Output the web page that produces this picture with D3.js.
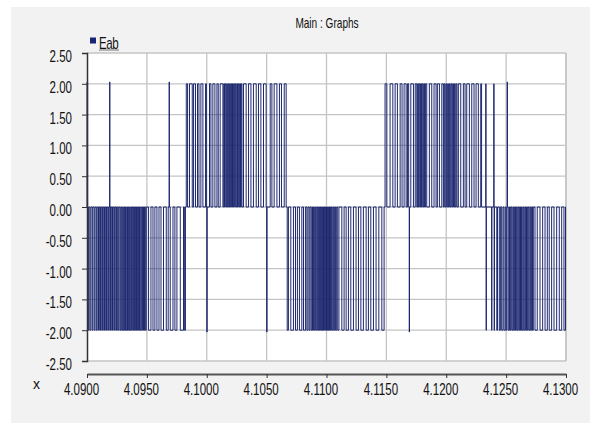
<!DOCTYPE html>
<html>
<head>
<meta charset="utf-8">
<script src="https://cdn.jsdelivr.net/npm/d3@7"></script>
<style>
  body { margin: 0; background: #fff; }
  svg text { font-family: "Liberation Sans", Arial, sans-serif; fill: #111; }
</style>
</head>
<body>
<svg id="chart"></svg>
<script>
// time axis: ms after t0 (4.0900 s)
var t0 = 4.09;
var xTicks = [4.090, 4.095, 4.100, 4.105, 4.110, 4.115, 4.120, 4.125, 4.130];
var yTicks = [2.5, 2.0, 1.5, 1.0, 0.5, 0.0, -0.5, -1.0, -1.5, -2.0, -2.5];
var seriesName = "Eab";
var pulseLevel = 2.0;
var spikeLevel = 2.03;

// switching instants (ms); consecutive pairs = one pulse
var negA = [0.08, 0.14, 0.24, 0.32, 0.43, 0.49, 0.60, 0.67, 0.78, 0.85, 0.96, 1.03, 1.13, 1.19, 1.29, 1.36,
  1.46, 1.53, 1.63, 1.69, 1.79, 1.86, 1.96, 2.03, 2.13, 2.19, 2.29, 2.36, 2.46, 2.53,
  2.61, 2.68, 2.77, 2.83, 2.90, 2.98, 3.03, 3.10, 3.15, 3.21, 3.26, 3.33, 3.38, 3.44, 3.49, 3.56,
  3.61, 3.68, 3.73, 3.78, 3.85, 3.90, 3.96, 4.03, 4.08, 4.13, 4.20, 4.25, 4.31, 4.38, 4.43, 4.50,
  4.57, 4.64, 4.72, 4.80, 4.87, 4.95,
  5.14, 5.34, 5.51, 5.67, 5.84, 6.01, 6.18, 6.39, 6.62, 6.78, 6.95, 7.18, 7.34, 7.51, 7.79, 8.06, 8.13, 8.22];
var posB = [8.29, 8.40, 8.56, 8.79, 8.90, 9.06, 9.23, 9.35, 9.51, 9.68, 9.90, 9.97, 10.23, 10.35, 10.51, 10.68,
  10.85, 10.96, 11.12, 11.35,
  11.42, 11.48, 11.54, 11.61, 11.67, 11.72, 11.79, 11.84, 11.91, 11.97, 12.03, 12.08, 12.15, 12.21,
  12.26, 12.33, 12.38, 12.44, 12.51, 12.57, 12.63, 12.69, 12.75, 12.82, 12.88, 12.94,
  13.07, 13.29, 13.49, 13.69, 13.90, 14.13, 14.32, 14.52, 14.74, 14.96, 15.30, 15.44, 15.63, 15.86,
  16.07, 16.24, 16.47, 16.63];
var negC = [16.72, 16.82, 17.02, 17.24, 17.41, 17.57, 17.74, 17.94, 18.08, 18.24,
  18.36, 18.45, 18.55, 18.63, 18.73, 18.83, 18.91, 19.01, 19.09, 19.18, 19.26, 19.34, 19.41, 19.49,
  19.55, 19.60, 19.65, 19.70, 19.75, 19.80, 19.85, 19.90, 19.95, 20.00, 20.05, 20.10, 20.15, 20.20,
  20.25, 20.30, 20.35, 20.40, 20.46, 20.53, 20.60, 20.68, 20.76, 20.85, 20.94, 21.04,
  21.28, 21.47, 21.64, 21.83, 22.03, 22.25, 22.47, 22.67, 22.87, 23.08, 23.31, 23.50, 23.70, 23.92,
  24.14, 24.37, 24.62, 24.81];
var posD = [24.89, 25.04, 25.31, 25.54, 25.73, 25.92, 26.15, 26.31, 26.48, 26.65, 26.76, 26.86,
  27.04, 27.26, 27.41, 27.54, 27.61, 27.67, 27.73, 27.80, 27.86, 27.93, 27.99, 28.06, 28.12, 28.19,
  28.26, 28.37,
  28.59, 28.79, 28.98, 29.15, 29.26, 29.43, 29.63, 29.76,
  29.83, 29.90, 29.98, 30.04, 30.12, 30.18, 30.26, 30.33, 30.40, 30.47, 30.54, 30.61, 30.68, 30.75,
  30.83, 30.90,
  31.01, 31.21, 31.43, 31.57, 31.71, 31.93, 32.13, 32.32, 32.49, 32.68, 32.88, 32.95,
  33.30, 33.32, 33.97, 33.99];
var negE = [33.33, 33.35, 33.79, 33.81, 34.00, 34.03, 34.22, 34.28, 34.43, 34.52, 34.63, 34.74,
  34.82, 34.93, 35.01, 35.07,
  35.18, 35.28, 35.35, 35.42, 35.49, 35.57, 35.63, 35.71, 35.78, 35.85, 35.92, 35.99, 36.06, 36.13,
  36.20, 36.28, 36.34, 36.42, 36.48, 36.56, 36.63, 36.70, 36.77, 36.84, 36.91, 36.99, 37.05, 37.13,
  37.20, 37.27,
  37.41, 37.60, 37.83, 38.05, 38.25, 38.44, 38.60, 38.80, 39.00, 39.22, 39.44, 39.64, 39.83, 39.96];
var spikesUp = [[0.00, 0.05], [1.89, 1.91], [6.86, 6.88], [35.09, 35.11]];
var spikesDown = [[10.01, 10.03], [15.01, 15.03], [26.91, 26.93]];

var W = 590, H = 423;
var sx = 0.72; // narrow text look
var svg = d3.select('#chart').attr('width', W).attr('height', H);

svg.append('rect').attr('x', 11).attr('y', 7).attr('width', W - 11).attr('height', H - 7).attr('fill', '#f2f2f2');

var x = d3.scaleLinear().domain([4.09, 4.13]).range([87, 566]);
var y = d3.scaleLinear().domain([-2.5, 2.5]).range([361, 53]);

svg.append('rect').attr('x', 87).attr('y', 53).attr('width', 479).attr('height', 308).attr('fill', '#fff');

// grid
svg.append('g').selectAll('line').data(xTicks.slice(1)).enter().append('line')
    .attr('x1', function(d){ return x(d); }).attr('x2', function(d){ return x(d); })
    .attr('y1', y(2.5)).attr('y2', y(-2.5))
    .attr('stroke', '#c4c4c4').attr('stroke-width', 1.3);
svg.append('g').selectAll('line').data(yTicks).enter().append('line')
    .attr('x1', 87).attr('x2', 566)
    .attr('y1', function(d){ return y(d); }).attr('y2', function(d){ return y(d); })
    .attr('stroke', '#c4c4c4').attr('stroke-width', 1.3);
svg.append('line').attr('x1', 566).attr('x2', 566).attr('y1', 53).attr('y2', 361)
    .attr('stroke', '#c8c8c8').attr('stroke-width', 2);

// waveform
function pulses(edges, level){
    var out = [];
    for(var i = 0; i < edges.length; i += 2){
        out.push({a: edges[i], b: edges[i+1], v: level});
    }
    return out;
}
var all = [].concat(pulses(negA, -pulseLevel), pulses(posB, pulseLevel), pulses(negC, -pulseLevel),
    pulses(posD, pulseLevel), pulses(negE, -pulseLevel));
spikesUp.forEach(function(s){ all.push({a: s[0], b: s[1], v: spikeLevel}); });
spikesDown.forEach(function(s){ all.push({a: s[0], b: s[1], v: -spikeLevel}); });
all.sort(function(p, q){ return p.a - q.a; });

var pts = [[0, 0]];
all.forEach(function(p){
    pts.push([p.a, 0], [p.a, p.v], [p.b, p.v], [p.b, 0]);
});
pts.push([40, 0]);

var line = d3.line()
    .x(function(d){ return x(t0 + d[0] / 1000); })
    .y(function(d){ return y(d[1]); });
svg.append('path').datum(pts).attr('d', line)
    .attr('fill', 'none').attr('stroke', '#1d2870').attr('stroke-width', 1);

// y axis
var yAxis = svg.append('g').attr('transform', 'translate(87,0)')
    .call(d3.axisLeft(y).tickValues(yTicks).tickFormat(function(d){ return d.toFixed(2); }).tickSize(5).tickPadding(0));
yAxis.select('.domain').attr('stroke', '#333').attr('stroke-width', 1.5);
yAxis.selectAll('.tick line').attr('stroke', '#333');
yAxis.selectAll('.tick text').attr('x', -15 / sx).attr('dy', '8.5').attr('font-size', 16)
    .attr('transform', 'scale(' + sx + ',1)').attr('fill', '#111');

// x axis (detached below plot)
var xAxis = svg.append('g').attr('transform', 'translate(0,374)')
    .call(d3.axisBottom(x).tickValues(xTicks).tickFormat(function(d){ return d.toFixed(4); }).tickSize(4).tickSizeOuter(0));
xAxis.select('.domain').attr('stroke', '#555').attr('stroke-width', 2);
xAxis.selectAll('.tick line').attr('stroke', '#333');
xAxis.selectAll('.tick text').attr('x', -6 / sx).attr('y', 0).attr('dy', '21').attr('font-size', 16)
    .attr('transform', 'scale(' + sx + ',1)').attr('fill', '#111');

svg.append('text').attr('x', 33).attr('y', 389).attr('font-size', 14).text('x');

// title and legend
svg.append('text').attr('transform', 'translate(327,28) scale(' + sx + ',1)').attr('text-anchor', 'middle')
    .attr('font-size', 14).text('Main : Graphs');
svg.append('rect').attr('x', 90).attr('y', 37.5).attr('width', 6).attr('height', 6).attr('fill', '#1a237a');
svg.append('text').attr('transform', 'translate(99,49) scale(' + sx + ',1)').attr('font-size', 16)
    .attr('letter-spacing', '-0.5px').text(seriesName);
svg.append('line').attr('x1', 99).attr('x2', 119).attr('y1', 50).attr('y2', 50)
    .attr('stroke', '#555').attr('stroke-width', 0.8);
</script>
</body>
</html>
